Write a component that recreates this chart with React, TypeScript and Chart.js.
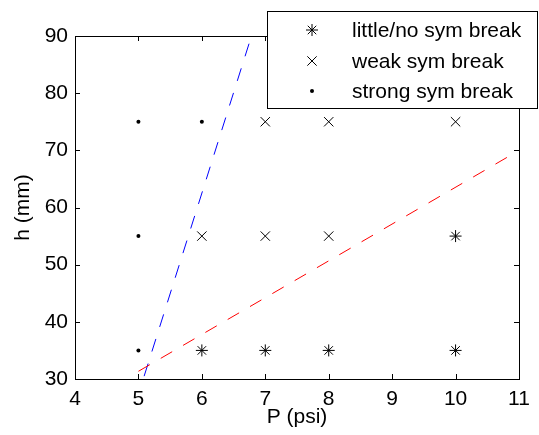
import React, { useEffect, useRef } from "react";
import { Chart, registerables } from "chart.js";

Chart.register(...registerables);

// ---- data ----
const littleX = [10, 6, 7, 8, 10];
const littleY = [55, 35, 35, 35, 35];
const weakX = [7, 8, 10, 6, 7, 8];
const weakY = [75, 75, 75, 55, 55, 55];
const strongX = [5, 6, 5, 5];
const strongY = [75, 75, 55, 35];
const redLineX = [5, 10.81];
const redLineY = [31.35, 68.76];
const blueLineX = [5.09, 6.745];
const blueLineY = [30.5, 88.7];
const legendLabels = ["little/no sym break", "weak sym break", "strong sym break"];
const xTicks = [4, 5, 6, 7, 8, 9, 10, 11];
const yTicks = [30, 40, 50, 60, 70, 80, 90];

const zip = (xs: number[], ys: number[]) => xs.map((x, i) => ({ x, y: ys[i] }));

const FONT = "'Liberation Sans', Arial, Helvetica, sans-serif";
const FS = 21;
const DASH = [13.2, 12.6];

function drawMarker(ctx: CanvasRenderingContext2D, style: string, x: number, y: number, r: number) {
  ctx.save();
  ctx.strokeStyle = "#000";
  ctx.fillStyle = "#000";
  ctx.lineWidth = 1;
  ctx.beginPath();
  if (style === "star") {
    const d = r * Math.SQRT1_2;
    ctx.moveTo(x - r, y); ctx.lineTo(x + r, y);
    ctx.moveTo(x, y - r); ctx.lineTo(x, y + r);
    ctx.moveTo(x - d, y - d); ctx.lineTo(x + d, y + d);
    ctx.moveTo(x - d, y + d); ctx.lineTo(x + d, y - d);
    ctx.stroke();
  } else if (style === "crossRot") {
    const d = r * Math.SQRT1_2;
    ctx.moveTo(x - d, y - d); ctx.lineTo(x + d, y + d);
    ctx.moveTo(x - d, y + d); ctx.lineTo(x + d, y - d);
    ctx.stroke();
  } else {
    ctx.arc(x, y, r, 0, Math.PI * 2);
    ctx.fill();
  }
  ctx.restore();
}

const framePlugin = {
  id: "frame",
  afterDraw(chart: any) {
    const { ctx, chartArea } = chart;
    const { left, right, top, bottom } = chartArea;
    const xs = chart.scales.x;
    const ys = chart.scales.y;
    ctx.save();
    ctx.strokeStyle = "#000";
    ctx.lineWidth = 1;
    ctx.strokeRect(Math.round(left) + 0.5, Math.round(top) + 0.5, Math.round(right - left), Math.round(bottom - top));
    const tl = 5;
    ctx.beginPath();
    xs.ticks.forEach((t: any) => {
      const px = Math.round(xs.getPixelForValue(t.value)) + 0.5;
      ctx.moveTo(px, bottom); ctx.lineTo(px, bottom - tl);
      ctx.moveTo(px, top); ctx.lineTo(px, top + tl);
    });
    ys.ticks.forEach((t: any) => {
      const py = Math.round(ys.getPixelForValue(t.value)) + 0.5;
      ctx.moveTo(left, py); ctx.lineTo(left + tl, py);
      ctx.moveTo(right, py); ctx.lineTo(right - tl, py);
    });
    ctx.stroke();

    // legend
    const bx = 267.5, by = 11.5, bw = 270, bh = 97;
    ctx.fillStyle = "#fff";
    ctx.fillRect(bx, by, bw, bh);
    ctx.strokeRect(bx, by, bw, bh);
    const rows = [30, 61, 91];
    ctx.font = `${FS}px ${FONT}`;
    ctx.textBaseline = "middle";
    ctx.textAlign = "left";
    for (let i = 0; i < 3; i++) {
      const ds = chart.data.datasets[i];
      drawMarker(ctx, ds.pointStyle, 312, rows[i], ds.pointRadius);
      ctx.fillStyle = "#000";
      ctx.fillText(legendLabels[i], 352, rows[i] + 1);
    }
    ctx.restore();
  },
};

export default function App() {
  const ref = useRef<HTMLCanvasElement>(null);
  useEffect(() => {
    document.body.style.margin = "0";
    const chart = new Chart(ref.current!, {
      type: "scatter",
      data: {
        datasets: [
          {
            label: legendLabels[0],
            data: zip(littleX, littleY),
            pointStyle: "star",
            pointRadius: 6,
            borderColor: "#000",
            backgroundColor: "#000",
            borderWidth: 1,
          },
          {
            label: legendLabels[1],
            data: zip(weakX, weakY),
            pointStyle: "crossRot",
            pointRadius: 6.6,
            borderColor: "#000",
            backgroundColor: "#000",
            borderWidth: 1,
          },
          {
            label: legendLabels[2],
            data: zip(strongX, strongY),
            pointStyle: "circle",
            pointRadius: 2,
            borderColor: "#000",
            backgroundColor: "#000",
            borderWidth: 0,
          },
          {
            label: "red",
            data: zip(redLineX, redLineY),
            showLine: true,
            pointRadius: 0,
            borderColor: "#ff0000",
            borderWidth: 1,
            borderDash: DASH,
          },
          {
            label: "blue",
            data: zip(blueLineX, blueLineY),
            showLine: true,
            pointRadius: 0,
            borderColor: "#0000ff",
            borderWidth: 1,
            borderDash: DASH,
          },
        ] as any,
      },
      options: {
        animation: false,
        responsive: false,
        devicePixelRatio: 1,
        layout: { padding: { top: 36, right: 20, left: 0, bottom: 0 } },
        plugins: { legend: { display: false }, tooltip: { enabled: false } },
        font: { family: FONT, size: FS },
        scales: {
          x: {
            type: "linear",
            min: xTicks[0],
            max: xTicks[xTicks.length - 1],
            afterBuildTicks: (s: any) => { s.ticks = xTicks.map((v) => ({ value: v })); },
            afterFit: (s: any) => { s.height = 56; },
            grid: { display: false, drawTicks: false },
            border: { display: false },
            ticks: { color: "#000", padding: 8, font: { family: FONT, size: FS }, maxRotation: 0, autoSkip: false },
            title: { display: true, text: "P (psi)", color: "#000", font: { family: FONT, size: FS }, padding: { top: 0, bottom: 5 } },
          },
          y: {
            type: "linear",
            min: yTicks[0],
            max: yTicks[yTicks.length - 1],
            afterBuildTicks: (s: any) => { s.ticks = yTicks.map((v) => ({ value: v })); },
            afterFit: (s: any) => { s.width = 75; },
            grid: { display: false, drawTicks: false },
            border: { display: false },
            ticks: { color: "#000", padding: 7, font: { family: FONT, size: FS }, autoSkip: false },
            title: { display: true, text: "h (mm)", color: "#000", font: { family: FONT, size: FS }, padding: { top: 11, bottom: 0 } },
          },
        },
      } as any,
      plugins: [framePlugin],
    });
    return () => chart.destroy();
  }, []);
  return <canvas ref={ref} width={539} height={435} style={{ display: "block" }} />;
}
